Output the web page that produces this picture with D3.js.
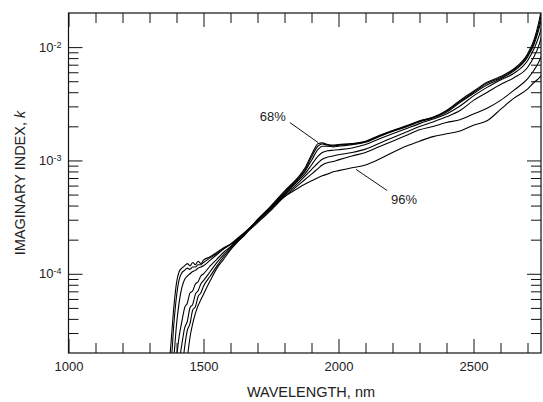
<!DOCTYPE html>
<html>
<head>
<meta charset="utf-8">
<script src="https://cdn.jsdelivr.net/npm/d3@7"></script>
<style>
  body { margin: 0; background: #fff; }
  svg { display: block; font-family: "Liberation Sans", Arial, Helvetica, sans-serif; }
</style>
</head>
<body>
<div id="chart"></div>
<script>
// 1: DATA (as log10 of k)
const wavelengths = [1370,1380,1390,1400,1410,1420,1430,1440,1450,1460,1470,1480,1490,1500,
  1525,1550,1575,1600,1625,1650,1700,1750,1800,1850,1875,1900,1925,1940,1960,1980,2000,
  2050,2100,2150,2200,2250,2300,2350,2400,2450,2500,2550,2600,2650,2700,2725,2740,2755];

const rh68 = [-4.9,-4.6,-4.3,-4.08,-3.98,-3.95,-3.93,-3.91,-3.93,-3.90,-3.92,-3.89,-3.91,-3.88,
  -3.85,-3.81,-3.77,-3.74,-3.70,-3.65,-3.53,-3.40,-3.27,-3.15,-3.07,-2.95,-2.85,-2.845,-2.86,-2.865,-2.86,
  -2.85,-2.83,-2.78,-2.735,-2.695,-2.65,-2.62,-2.56,-2.47,-2.39,-2.31,-2.26,-2.19,-2.06,-1.93,-1.80,-1.62];
const rh74 = [-5.0,-4.8,-4.45,-4.2,-4.05,-3.99,-3.97,-3.95,-3.96,-3.94,-3.94,-3.92,-3.92,-3.90,
  -3.86,-3.82,-3.78,-3.74,-3.69,-3.645,-3.53,-3.41,-3.28,-3.16,-3.09,-2.97,-2.87,-2.855,-2.865,-2.87,-2.865,
  -2.855,-2.835,-2.785,-2.74,-2.70,-2.655,-2.62,-2.565,-2.48,-2.40,-2.32,-2.27,-2.20,-2.075,-1.95,-1.83,-1.67];
const rh79 = [-5.2,-5.0,-4.75,-4.45,-4.25,-4.12,-4.05,-4.02,-4.0,-3.98,-3.97,-3.95,-3.94,-3.93,
  -3.88,-3.83,-3.78,-3.74,-3.69,-3.64,-3.53,-3.41,-3.29,-3.17,-3.10,-3.0,-2.90,-2.875,-2.875,-2.88,-2.875,
  -2.86,-2.84,-2.79,-2.745,-2.705,-2.66,-2.625,-2.575,-2.49,-2.41,-2.335,-2.28,-2.21,-2.09,-1.97,-1.86,-1.72];
const rh84 = [-5.3,-5.2,-5.0,-4.75,-4.55,-4.42,-4.30,-4.26,-4.17,-4.15,-4.09,-4.07,-4.02,-4.0,
  -3.93,-3.87,-3.81,-3.76,-3.70,-3.645,-3.53,-3.42,-3.30,-3.18,-3.12,-3.04,-2.96,-2.93,-2.915,-2.91,-2.905,
  -2.89,-2.86,-2.81,-2.765,-2.72,-2.675,-2.635,-2.59,-2.52,-2.43,-2.355,-2.29,-2.23,-2.12,-2.01,-1.92,-1.80];
const rh88 = [-5.5,-5.4,-5.2,-5.0,-4.78,-4.62,-4.48,-4.42,-4.30,-4.27,-4.18,-4.15,-4.09,-4.06,
  -3.98,-3.90,-3.83,-3.77,-3.71,-3.65,-3.54,-3.43,-3.31,-3.20,-3.14,-3.08,-3.02,-2.99,-2.97,-2.96,-2.95,
  -2.93,-2.90,-2.85,-2.80,-2.75,-2.70,-2.66,-2.615,-2.56,-2.47,-2.40,-2.33,-2.27,-2.18,-2.08,-2.0,-1.88];
const rh92 = [-5.6,-5.5,-5.4,-5.2,-5.0,-4.85,-4.65,-4.50,-4.44,-4.32,-4.29,-4.20,-4.17,-4.11,
  -4.02,-3.93,-3.85,-3.78,-3.72,-3.66,-3.55,-3.44,-3.32,-3.22,-3.17,-3.12,-3.07,-3.04,-3.02,-3.01,-2.995,
  -2.96,-2.93,-2.88,-2.83,-2.78,-2.73,-2.70,-2.665,-2.64,-2.59,-2.54,-2.47,-2.38,-2.28,-2.20,-2.14,-2.06];
const rh96 = [-5.8,-5.7,-5.6,-5.5,-5.4,-5.2,-5.0,-4.75,-4.56,-4.44,-4.35,-4.28,-4.23,-4.18,
  -4.06,-3.95,-3.87,-3.79,-3.72,-3.665,-3.52,-3.41,-3.32,-3.245,-3.21,-3.18,-3.15,-3.135,-3.12,-3.10,-3.09,
  -3.065,-3.04,-2.99,-2.93,-2.875,-2.83,-2.79,-2.765,-2.74,-2.69,-2.65,-2.55,-2.45,-2.37,-2.31,-2.28,-2.24];

const seriesNames = ["68%", "74%", "79%", "84%", "88%", "92%", "96%"];
const seriesLogK = [rh68, rh74, rh79, rh84, rh88, rh92, rh96];

const xMajorTicks = [1000, 1500, 2000, 2500];
const xMinorTicks = [1100,1200,1300,1400,1600,1700,1800,1900,2100,2200,2300,2400,2600,2700];
const yMajorTicks = [1e-4, 1e-3, 1e-2];
const yMinorTicks = [3e-5,4e-5,5e-5,6e-5,7e-5,8e-5,9e-5,
  2e-4,3e-4,4e-4,5e-4,6e-4,7e-4,8e-4,9e-4,
  2e-3,3e-3,4e-3,5e-3,6e-3,7e-3,8e-3,9e-3];

// callouts: label position and leader line, in data units
const callouts = [
  { text: "68%", lx: 1757, ly: 2.23e-3, x1: 1820, y1: 2.16e-3, x2: 1924, y2: 1.44e-3 },
  { text: "96%", lx: 2243, ly: 4.13e-4, x1: 2065, y1: 8.34e-4, x2: 2180, y2: 5.43e-4 }
];

// 2: SVG + SCALES
const W = 543, H = 402;
const svg = d3.select("#chart").append("svg").attr("width", W).attr("height", H);

const x = d3.scaleLinear().domain([1000, 2750]).range([68.5, 541]);
const y = d3.scaleLog().domain([2e-5, 2e-2]).range([353, 13]);
const [plotLeft, plotRight] = x.range();
const [plotBottom, plotTop] = y.range();

svg.append("clipPath").attr("id", "plot")
  .append("rect")
  .attr("x", plotLeft).attr("y", plotTop)
  .attr("width", plotRight - plotLeft).attr("height", plotBottom - plotTop);

// 3: CURVES
const line = d3.line()
  .x(d => x(d.wl))
  .y(d => y(d.k))
  .curve(d3.curveMonotoneX);

const series = seriesLogK.map((vals, i) => ({
  name: seriesNames[i],
  values: vals.map((v, j) => ({ wl: wavelengths[j], k: Math.pow(10, v) }))
}));

svg.append("g")
  .attr("clip-path", "url(#plot)")
  .selectAll("path")
  .data(series)
  .enter()
  .append("path")
  .attr("d", d => line(d.values))
  .attr("fill", "none")
  .attr("stroke", "#000")
  .attr("stroke-width", 1.1);

// 4: AXES (ticks on all four sides, pointing in)
function styleAxis(g) {
  g.select(".domain").remove();
  g.selectAll("line").attr("stroke", "#111");
  g.selectAll("text").attr("fill", "#222");
  g.attr("font-family", null).attr("font-size", 13);
}

svg.append("g").attr("transform", `translate(0,${plotBottom})`)
  .call(d3.axisBottom(x).tickValues(xMinorTicks).tickSize(-10).tickFormat(""))
  .call(styleAxis);
svg.append("g").attr("transform", `translate(0,${plotBottom})`)
  .call(d3.axisBottom(x).tickValues(xMajorTicks).tickSize(-14).tickPadding(9).tickFormat(d3.format("d")))
  .call(styleAxis);
svg.append("g").attr("transform", `translate(0,${plotTop})`)
  .call(d3.axisTop(x).tickValues(xMinorTicks).tickSize(-10).tickFormat(""))
  .call(styleAxis);
svg.append("g").attr("transform", `translate(0,${plotTop})`)
  .call(d3.axisTop(x).tickValues(xMajorTicks).tickSize(-14).tickFormat(""))
  .call(styleAxis);

svg.append("g").attr("transform", `translate(${plotLeft},0)`)
  .call(d3.axisLeft(y).tickValues(yMinorTicks).tickSize(-10).tickFormat(""))
  .call(styleAxis);
const yAxis = svg.append("g").attr("transform", `translate(${plotLeft},0)`)
  .call(d3.axisLeft(y).tickValues(yMajorTicks).tickSize(-14).tickPadding(7).tickFormat(""))
  .call(styleAxis);
svg.append("g").attr("transform", `translate(${plotRight},0)`)
  .call(d3.axisRight(y).tickValues(yMinorTicks).tickSize(-10).tickFormat(""))
  .call(styleAxis);
svg.append("g").attr("transform", `translate(${plotRight},0)`)
  .call(d3.axisRight(y).tickValues(yMajorTicks).tickSize(-14).tickFormat(""))
  .call(styleAxis);

// 10 with superscript exponent
yAxis.selectAll(".tick text").each(function(d) {
  const t = d3.select(this);
  t.append("tspan").text("10");
  t.append("tspan")
    .attr("dy", "-0.45em")
    .attr("font-size", 9)
    .text(String(Math.round(Math.log10(d))));
});

// frame
svg.append("rect")
  .attr("x", plotLeft).attr("y", plotTop)
  .attr("width", plotRight - plotLeft).attr("height", plotBottom - plotTop)
  .attr("fill", "none")
  .attr("stroke", "#111")
  .attr("stroke-width", 1.2);

// 5: AXIS TITLES
svg.append("text")
  .attr("x", 311)
  .attr("y", 397)
  .attr("text-anchor", "middle")
  .attr("font-size", 14.5)
  .attr("fill", "#222")
  .text("WAVELENGTH, nm");

const yTitle = svg.append("text")
  .attr("transform", `translate(25,${(plotTop + plotBottom) / 2}) rotate(-90)`)
  .attr("text-anchor", "middle")
  .attr("font-size", 14.5)
  .attr("fill", "#222");
yTitle.append("tspan").text("IMAGINARY INDEX, ");
yTitle.append("tspan").attr("font-style", "italic").text("k");

// 6: CALLOUTS
const co = svg.append("g");
co.selectAll("line")
  .data(callouts)
  .enter()
  .append("line")
  .attr("x1", d => x(d.x1)).attr("y1", d => y(d.y1))
  .attr("x2", d => x(d.x2)).attr("y2", d => y(d.y2))
  .attr("stroke", "#111")
  .attr("stroke-width", 1);
co.selectAll("text")
  .data(callouts)
  .enter()
  .append("text")
  .attr("x", d => x(d.lx))
  .attr("y", d => y(d.ly))
  .attr("text-anchor", "middle")
  .attr("font-size", 13)
  .attr("fill", "#222")
  .text(d => d.text);
</script>
</body>
</html>
